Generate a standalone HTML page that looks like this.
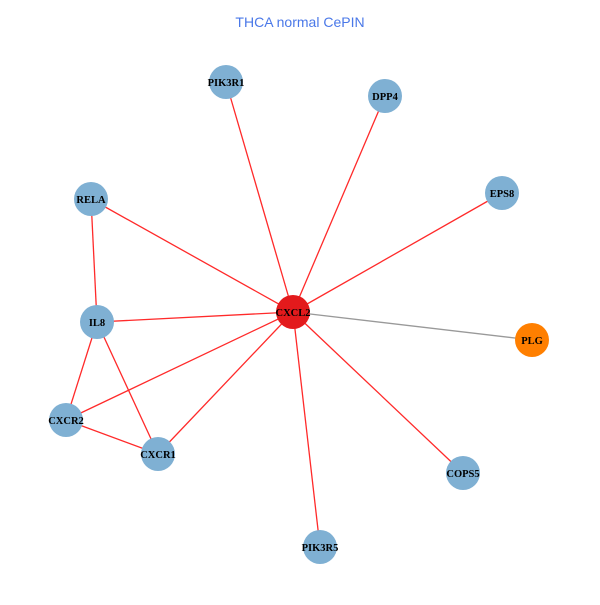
<!DOCTYPE html>
<html><head><style>body{margin:0;background:#fff}</style></head><body>
<svg width="600" height="600" xmlns="http://www.w3.org/2000/svg">
<rect width="600" height="600" fill="#fff"/>
<text x="300" y="27" text-anchor="middle" font-family="Liberation Sans, sans-serif" font-size="14" fill="#4a78e8">THCA normal CePIN</text>
<g stroke="#ff2a2a" stroke-width="1.3">
<line x1="293" y1="312" x2="226" y2="82"/>
<line x1="293" y1="312" x2="385" y2="96"/>
<line x1="293" y1="312" x2="502" y2="193"/>
<line x1="293" y1="312" x2="91" y2="199"/>
<line x1="293" y1="312" x2="97" y2="322"/>
<line x1="293" y1="312" x2="66" y2="420"/>
<line x1="293" y1="312" x2="158" y2="454"/>
<line x1="293" y1="312" x2="463" y2="473"/>
<line x1="293" y1="312" x2="320" y2="547"/>
<line x1="91" y1="199" x2="97" y2="322"/>
<line x1="97" y1="322" x2="66" y2="420"/>
<line x1="97" y1="322" x2="158" y2="454"/>
<line x1="66" y1="420" x2="158" y2="454"/>
</g>
<line x1="293" y1="312" x2="532" y2="340" stroke="#999" stroke-width="1.3"/>
<g fill="#7fb0d3">
<circle cx="226" cy="82" r="17"/><circle cx="385" cy="96" r="17"/><circle cx="502" cy="193" r="17"/>
<circle cx="91" cy="199" r="17"/><circle cx="97" cy="322" r="17"/><circle cx="66" cy="420" r="17"/>
<circle cx="158" cy="454" r="17"/><circle cx="463" cy="473" r="17"/><circle cx="320" cy="547" r="17"/>
</g>
<circle cx="532" cy="340" r="17" fill="#ff7f00"/>
<circle cx="293" cy="312" r="17" fill="#e31a1c"/>
<g font-family="Liberation Serif, serif" font-weight="bold" font-size="10.5" text-anchor="middle" fill="#000">
<text x="226" y="86">PIK3R1</text><text x="385" y="100">DPP4</text><text x="502" y="197">EPS8</text>
<text x="91" y="203">RELA</text><text x="97" y="326">IL8</text><text x="66" y="424">CXCR2</text>
<text x="158" y="458">CXCR1</text><text x="463" y="477">COPS5</text><text x="320" y="551">PIK3R5</text>
<text x="532" y="344">PLG</text><text x="293" y="316">CXCL2</text>
</g>
</svg>
</body></html>
